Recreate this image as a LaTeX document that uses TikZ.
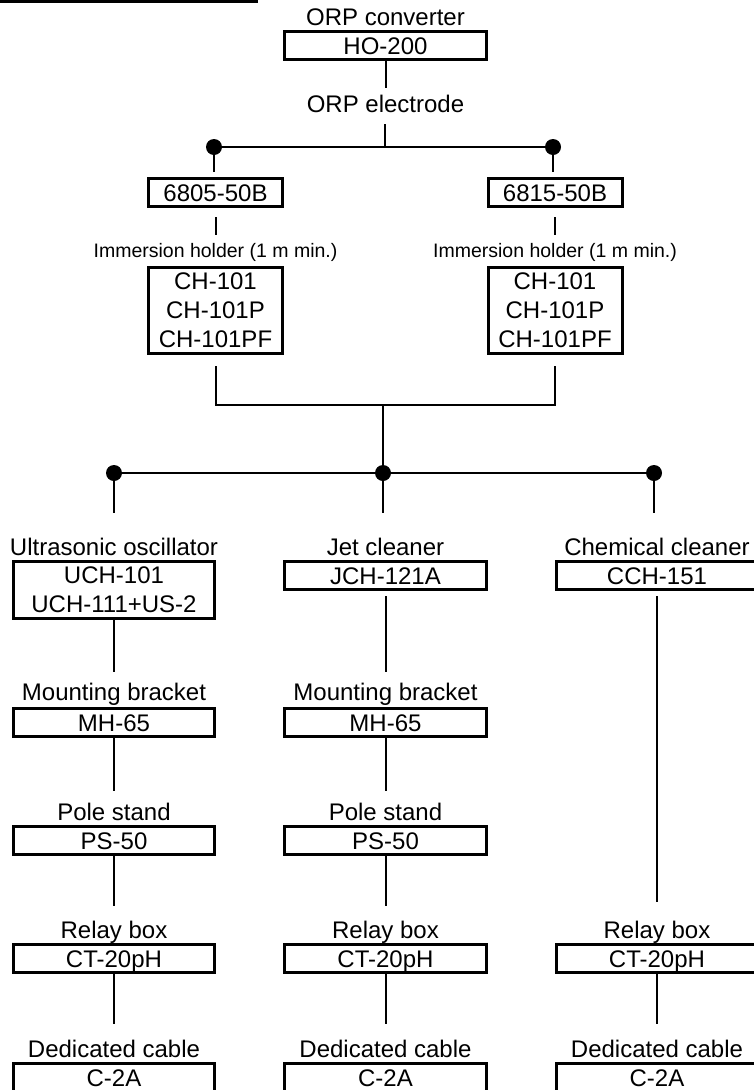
\documentclass[tikz,border=0pt]{standalone}
\usepackage{fontspec}
\setmainfont{Liberation Sans}
\begin{document}
\begin{tikzpicture}[x=1pt,y=-1pt,
  box/.style={draw,line width=3pt,inner sep=0pt,font=\fontsize{24}{29}\selectfont,align=center},
  sbox/.style={box,text height=17pt,text depth=0pt,minimum height=28pt},
  lbl/.style={anchor=base,inner sep=0pt,font=\fontsize{24}{29}\selectfont},
  slbl/.style={anchor=base,inner sep=0pt,font=\fontsize{19.5}{23}\selectfont},
  conn/.style={line width=2pt},
  dot/.style={circle,fill,inner sep=0pt,minimum size=16pt}]
\useasboundingbox (0,0) rectangle (754,1090);
% top-left rule
\draw[line width=3pt] (0,1) -- (258,1);

% converter and electrode
\node[lbl] (orpc) at (385.5,25) {ORP converter};
\node[sbox,minimum width=202pt] (ho) at (385.5,45.5) {HO-200};
\node[lbl] (orpe) at (385.5,112) {ORP electrode};
\coordinate (e1) at (385,88);
\coordinate (e2) at (385,124);
\coordinate (j1) at (385,147);
\node[dot] (d1) at (214,147) {};
\node[dot] (d2) at (553,147) {};

\node[sbox,minimum width=134pt] (ea) at (215.5,192.5) {6805-50B};
\node[sbox,minimum width=134pt] (eb) at (555,192.5) {6815-50B};
\coordinate (t1) at (0,172);
\coordinate (g1) at (0,217);
\coordinate (g2) at (0,235);
\node[slbl] (ima) at (215.5,257) {Immersion holder (1 m min.)};
\node[slbl] (imb) at (555,257) {Immersion holder (1 m min.)};
\node[box,minimum width=134pt,minimum height=86pt] (cha) at (215.5,310.5) {CH-101\\CH-101P\\CH-101PF};
\node[box,minimum width=134pt,minimum height=86pt] (chb) at (555,310.5) {CH-101\\CH-101P\\CH-101PF};
\coordinate (bc) at (383,405);

\draw[conn] (ho.south) -- (ho.south |- e1);
\draw[conn] (e2) -- (j1);
\draw[conn] (d1) -- (d2);
\draw[conn] (d1) -- (d1 |- t1);
\draw[conn] (d2) -- (d2 |- t1);
\draw[conn] (ea.south |- g1) -- (ea.south |- g2);
\draw[conn] (eb.south |- g1) -- (eb.south |- g2);
\draw[conn,shorten <=11pt,shorten >=11pt] (cha.south) |- (bc) -| (chb.south);

% cleaner bus
\node[dot] (d3) at (114,473) {};
\node[dot] (d4) at (383,473) {};
\node[dot] (d5) at (654,473) {};
\draw[conn] (bc) -- (d4);
\draw[conn] (d3) -- (d5);
\coordinate (t2) at (0,513);
\draw[conn] (d3) -- (d3 |- t2);
\draw[conn] (d4) -- (d4 |- t2);
\draw[conn] (d5) -- (d5 |- t2);

% left column
\node[lbl] (ul) at (114,555) {Ultrasonic oscillator};
\node[box,minimum width=201pt,minimum height=57pt] (uch) at (114,590) {UCH-101\\UCH-111+US-2};
\node[lbl] (mbl) at (114,700) {Mounting bracket};
\node[sbox,minimum width=201pt] (mhl) at (114,722.5) {MH-65};
\node[lbl] (psl) at (114,820) {Pole stand};
\node[sbox,minimum width=201pt] (psa) at (114,840.5) {PS-50};
\node[lbl] (rbl) at (114,938) {Relay box};
\node[sbox,minimum width=201pt] (cta) at (114,958.5) {CT-20pH};
\node[lbl] (dcl) at (114,1057) {Dedicated cable};
\node[sbox,minimum width=201pt] (cca) at (114,1077.5) {C-2A};

% middle column
\node[lbl] (jl) at (385.5,555) {Jet cleaner};
\node[sbox,minimum width=202pt] (jch) at (385.5,575.5) {JCH-121A};
\node[lbl] (mbm) at (385.5,700) {Mounting bracket};
\node[sbox,minimum width=202pt] (mhm) at (385.5,722.5) {MH-65};
\node[lbl] (psm) at (385.5,820) {Pole stand};
\node[sbox,minimum width=202pt] (psb) at (385.5,840.5) {PS-50};
\node[lbl] (rbm) at (385.5,938) {Relay box};
\node[sbox,minimum width=202pt] (ctb) at (385.5,958.5) {CT-20pH};
\node[lbl] (dcm) at (385.5,1057) {Dedicated cable};
\node[sbox,minimum width=202pt] (ccb) at (385.5,1077.5) {C-2A};

% right column
\node[lbl] (cl) at (657,555) {Chemical cleaner};
\node[sbox,minimum width=201pt] (cch) at (657,575.5) {CCH-151};
\node[lbl] (rbr) at (657,938) {Relay box};
\node[sbox,minimum width=201pt] (ctc) at (657,958.5) {CT-20pH};
\node[lbl] (dcr) at (657,1057) {Dedicated cable};
\node[sbox,minimum width=201pt] (ccc) at (657,1077.5) {C-2A};

% column connectors
\coordinate (y1) at (0,672);
\coordinate (y2) at (0,791);
\coordinate (y3) at (0,906);
\coordinate (y4) at (0,1024);
\coordinate (y5) at (0,902);
\draw[conn] (uch.south) -- (uch.south |- y1);
\draw[conn] (mhl.south) -- (mhl.south |- y2);
\draw[conn] (psa.south) -- (psa.south |- y3);
\draw[conn] (cta.south) -- (cta.south |- y4);
\draw[conn,shorten <=5pt] (jch.south) -- (jch.south |- y1);
\draw[conn] (mhm.south) -- (mhm.south |- y2);
\draw[conn] (psb.south) -- (psb.south |- y3);
\draw[conn] (ctb.south) -- (ctb.south |- y4);
\draw[conn,shorten <=5pt] (cch.south) -- (cch.south |- y5);
\draw[conn] (ctc.south) -- (ctc.south |- y4);
\end{tikzpicture}
\end{document}
